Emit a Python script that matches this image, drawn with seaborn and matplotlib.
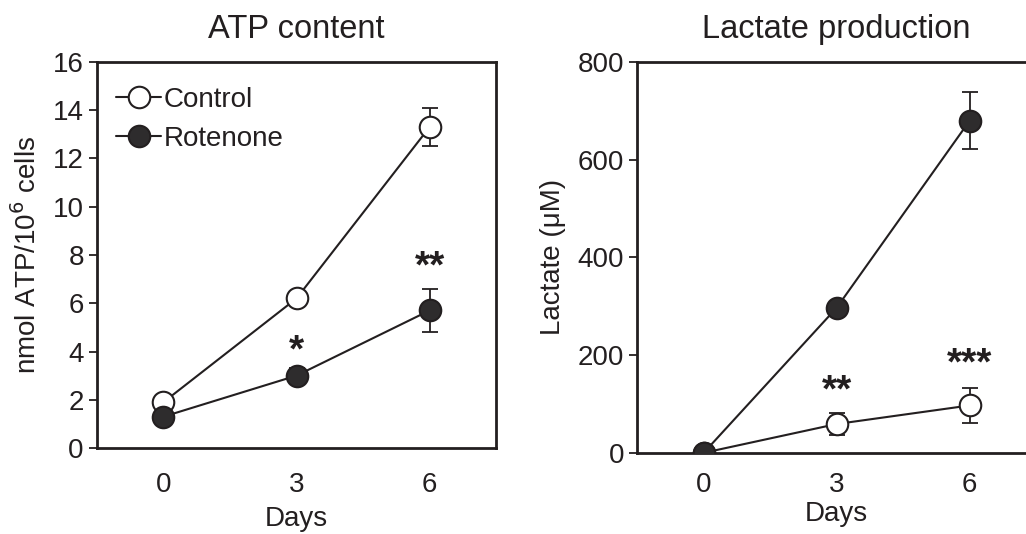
import matplotlib
matplotlib.use("Agg")
import matplotlib.pyplot as plt
import pandas as pd
import seaborn as sns

days = [0, 3, 6]
groups = ["Control", "Rotenone"]

atp_control = [1.9, 6.2, 13.3]
atp_control_err = [0.1, 0.15, 0.8]
atp_rotenone = [1.3, 3.0, 5.7]
atp_rotenone_err = [0.1, 0.3, 0.9]

lac_control = [0, 59, 97]
lac_control_err = [0, 23, 36]
lac_rotenone = [0, 297, 680]
lac_rotenone_err = [0, 5, 58]

atp_stars = [(3, 4.0, "*"), (6, 7.5, "**")]
lac_stars = [(3, 125, "**"), (6, 180, "***")]

INK = "#231f20"
FILL = {"Control": "white", "Rotenone": "#2e2c2d"}

sns.set_style("ticks")
plt.rcParams["font.family"] = ["Liberation Sans", "DejaVu Sans"]
plt.rcParams["text.color"] = INK
plt.rcParams["axes.labelcolor"] = INK
plt.rcParams["xtick.color"] = INK
plt.rcParams["ytick.color"] = INK


def make_df(control, control_err, rotenone, rotenone_err):
    rows = []
    for g, vals, errs in [("Control", control, control_err), ("Rotenone", rotenone, rotenone_err)]:
        for d, v, e in zip(days, vals, errs):
            rows.append({"day": d, "value": v, "err": e, "group": g})
    return pd.DataFrame(rows)


def draw_panel(ax, df, stars, title, ylabel, ylim, yticks, order, xlabelpad, xtickpad):
    for g in order:
        sub = df[df["group"] == g]
        ax.errorbar(sub["day"], sub["value"], yerr=sub["err"], fmt="none",
                    ecolor=INK, elinewidth=1.3, capsize=6, capthick=1.3, zorder=2)
        sns.lineplot(data=sub, x="day", y="value", ax=ax, color=INK, linewidth=1.5,
                     marker="o", markersize=15.5, markerfacecolor=FILL[g],
                     markeredgecolor=INK, markeredgewidth=1.5, label=g, zorder=3)
    for x, y, s in stars:
        ax.text(x, y, s, ha="center", va="center", fontsize=28, fontweight="bold", color=INK)
    ax.set_xlim(-1.5, 7.5)
    ax.set_ylim(*ylim)
    ax.set_yticks(yticks)
    ax.set_xticks(days)
    ax.set_title(title, fontsize=23.5, pad=17)
    ax.set_xlabel("Days", fontsize=20, labelpad=xlabelpad)
    ax.set_ylabel(ylabel, fontsize=20, labelpad=8)
    ax.tick_params(axis="y", length=6, width=1.3, labelsize=20, direction="out")
    ax.tick_params(axis="x", length=0, labelsize=20, pad=xtickpad)
    for sp in ax.spines.values():
        sp.set_linewidth(2)
        sp.set_color(INK)


fig = plt.figure(figsize=(10.26, 5.34), dpi=100)
ax1 = fig.add_axes([0.0945, 0.161, 0.389, 0.723])
ax2 = fig.add_axes([0.621, 0.152, 0.389, 0.732])

atp_df = make_df(atp_control, atp_control_err, atp_rotenone, atp_rotenone_err)
lac_df = make_df(lac_control, lac_control_err, lac_rotenone, lac_rotenone_err)

draw_panel(ax1, atp_df, atp_stars, "ATP content", "nmol ATP/10$^6$ cells",
           (0, 16), range(0, 17, 2), groups, 6, 17)
draw_panel(ax2, lac_df, lac_stars, "Lactate production", "Lactate (μM)",
           (0, 800), range(0, 801, 200), groups, 2, 14)

ax1.legend(loc="upper left", bbox_to_anchor=(0.0, 0.985), frameon=False, fontsize=20,
           handlelength=1.6, handletextpad=0.1, labelspacing=0.45, borderaxespad=0.3)
ax2.get_legend().remove()

fig.savefig("out.png", dpi=100)
